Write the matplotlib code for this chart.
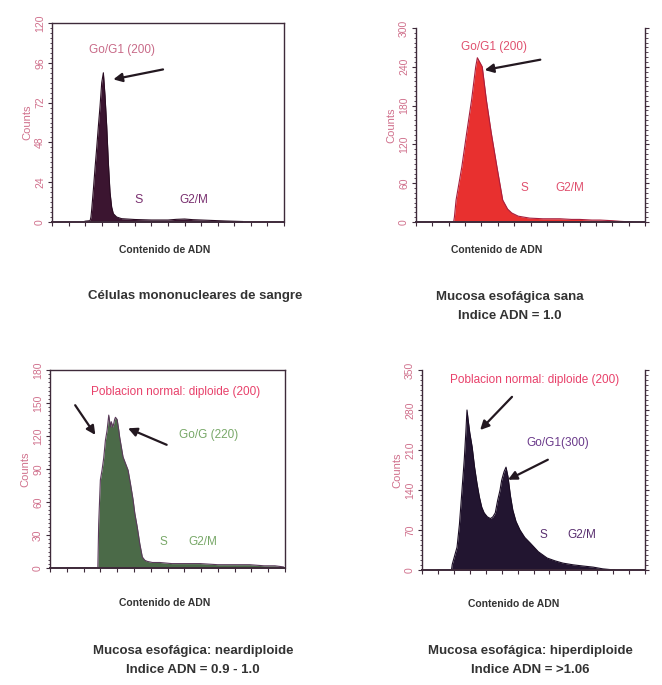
import matplotlib
matplotlib.use("Agg")
import matplotlib.pyplot as plt
from matplotlib.ticker import MultipleLocator, AutoMinorLocator

plt.rcParams['font.family'] = ['Liberation Sans', 'DejaVu Sans']

# ---- data (channel, counts) ----
p1_channel = [40, 46, 47, 48, 50, 52, 54, 56, 58, 60, 62, 64, 66, 68, 70, 72, 74, 78,
              84, 100, 120, 140, 150, 160, 170, 190, 210, 230]
p1_counts = [0.5, 0.8, 3, 8, 20, 33, 45, 58, 70, 84, 90, 76, 58, 36, 18, 9, 5, 3,
             2, 1.5, 1.2, 1.2, 1.6, 1.8, 1.4, 1, 0.6, 0.3]

p2_channel = [20, 46, 47, 49, 56, 62, 68, 73, 75, 81, 86, 92, 99, 106, 112, 117, 125,
              139, 155, 176, 190, 200, 215, 225, 240, 250, 265]
p2_counts = [0, 0, 8, 34, 85, 138, 189, 240, 254, 240, 189, 138, 85, 34, 20, 14, 9,
             6, 5, 5, 4, 4, 3, 3, 2, 1, 0]

p3_channel = [20, 57, 58, 60, 62, 64, 66, 68, 70, 72, 73, 75, 77, 78, 80, 82, 83, 85,
              87, 90, 93, 96, 99, 101, 104, 107, 110, 113, 116, 122, 131, 145, 160,
              179, 200, 220, 238, 255, 268, 278]
p3_counts = [0, 0, 40, 80, 89, 100, 116, 125, 139, 128, 133, 128, 135, 137, 135, 125,
             119, 110, 101, 95, 89, 76, 62, 50, 37, 22, 10, 7, 6, 5, 5, 4, 4, 4, 3, 3,
             3, 2, 2, 1]

p4_channel = [20, 37, 38, 41, 44, 47, 49, 51, 53, 55, 56.5, 58, 60, 63, 66, 69, 72, 75,
              78, 82, 86, 89, 92, 95, 98, 100, 103, 105.5, 108, 111, 114, 118, 123,
              129, 136, 146, 157, 167, 177, 190, 202, 215, 227, 242]
p4_counts = [0, 0, 10, 25, 40, 80, 117, 155, 192, 240, 280, 262, 240, 215, 180, 152,
             128, 110, 100, 93, 90, 93, 100, 122, 140, 157, 172, 180, 163, 130, 105,
             85, 70, 57, 47, 32, 21, 16, 12, 9, 7, 5, 2, 0]

y_max = [120, 300, 180, 350]
y_step = [24, 60, 30, 70]

x_title = 'Contenido de ADN'
captions = [['Células mononucleares de sangre'],
            ['Mucosa esofágica sana', 'Indice ADN = 1.0'],
            ['Mucosa esofágica: neardiploide', 'Indice ADN = 0.9 - 1.0'],
            ['Mucosa esofágica: hiperdiploide', 'Indice ADN = >1.06']]

W, H = 662, 685
fig = plt.figure(figsize=(W / 100, H / 100), dpi=100)
fig.patch.set_facecolor('white')


def px_axes(left, top, right, bottom):
    return fig.add_axes([left / W, 1 - bottom / H, (right - left) / W, (bottom - top) / H])


axes = [px_axes(52, 23, 284, 222), px_axes(416, 28, 645, 222),
        px_axes(50, 370, 285, 568), px_axes(422, 370, 645, 570)]

fills = ['#3b1530', '#e8302f', '#4b6a48', '#221530']
edges = ['#2a0c22', '#a81e3c', '#5a3a5a', '#1a0c24']
data = [(p1_channel, p1_counts), (p2_channel, p2_counts),
        (p3_channel, p3_counts), (p4_channel, p4_counts)]
pink = '#d0708c'
spine_col = '#3e2a3a'

for i, ax in enumerate(axes):
    xs, ys = data[i]
    ax.fill_between(xs, ys, 0, color=fills[i], lw=0)
    ax.plot(xs, ys, color=edges[i], lw=0.8)
    ax.set_xlim(0, 280)
    ax.set_ylim(0, y_max[i])
    ax.xaxis.set_major_locator(MultipleLocator(20))
    ax.yaxis.set_major_locator(MultipleLocator(y_step[i]))
    ax.yaxis.set_minor_locator(AutoMinorLocator(8))
    ax.tick_params(axis='x', direction='out', length=3, width=0.8, color=spine_col,
                   labelbottom=False)
    ax.tick_params(axis='y', which='major', direction='out', length=3, width=0.8,
                   color=spine_col, labelsize=7.5, labelcolor=pink, pad=2)
    ax.tick_params(axis='y', which='minor', direction='out', length=1.8, width=0.6,
                   color=spine_col)
    for lab in ax.get_yticklabels():
        lab.set_rotation(90)
        lab.set_va('center')
    ax.set_ylabel('Counts', fontsize=8, color=pink, labelpad=2)
    for s in ax.spines.values():
        s.set_color(spine_col)
        s.set_linewidth(1.0)
    ax.spines['bottom'].set_linewidth(1.4)
    if i in (1, 3):
        ax.spines['top'].set_visible(False)
        ax.tick_params(axis='y', which='both', right=True)

arrow = dict(arrowstyle='-|>', color='#231820', lw=1.6, mutation_scale=13,
             shrinkA=0, shrinkB=0)

# panel 1
a = axes[0]
a.text(84, 104, 'Go/G1 (200)', color='#c86a88', fontsize=8.5, ha='center', va='center')
a.annotate('', xy=(74, 86), xytext=(134, 92), arrowprops=arrow)
a.text(104, 13, 'S', color='#7a3070', fontsize=9, ha='center', va='center')
a.text(171, 13, 'G2/M', color='#7a3070', fontsize=8.5, ha='center', va='center')

# panel 2
a = axes[1]
a.text(95, 271, 'Go/G1 (200)', color='#e0506e', fontsize=8.5, ha='center', va='center')
a.annotate('', xy=(84, 235), xytext=(152, 251), arrowprops=arrow)
a.text(133, 53, 'S', color='#e0506e', fontsize=8.5, ha='center', va='center')
a.text(188, 53, 'G2/M', color='#e0506e', fontsize=8.5, ha='center', va='center')

# panel 3
a = axes[2]
a.text(150, 160, 'Poblacion normal: diploide (200)', color='#e8406a', fontsize=8.5,
       ha='center', va='center')
a.annotate('', xy=(54, 121), xytext=(30, 148), arrowprops=arrow)
a.annotate('', xy=(93, 127), xytext=(139, 112), arrowprops=arrow)
a.text(189, 121, 'Go/G (220)', color='#78a868', fontsize=8.5, ha='center', va='center')
a.text(135, 24, 'S', color='#78a868', fontsize=8.5, ha='center', va='center')
a.text(182, 24, 'G2/M', color='#78a868', fontsize=8.5, ha='center', va='center')

# panel 4
a = axes[3]
a.text(141, 332, 'Poblacion normal: diploide (200)', color='#e8406a', fontsize=8.5,
       ha='center', va='center', clip_on=False)
a.annotate('', xy=(73, 245), xytext=(113, 303), arrowprops=arrow)
a.text(170, 222, 'Go/G1(300)', color='#6a3a8a', fontsize=8.5, ha='center', va='center')
a.annotate('', xy=(108, 158), xytext=(158, 193), arrowprops=arrow)
a.text(152, 61, 'S', color='#5a3070', fontsize=8.5, ha='center', va='center')
a.text(201, 61, 'G2/M', color='#5a3070', fontsize=8.5, ha='center', va='center')

# titles and captions
title_pos = [(165, 250), (497, 250), (165, 603), (514, 604)]
caption_pos = [(195, 296), (510, 297), (193, 651), (530, 651)]
for i in range(4):
    x, y = title_pos[i]
    fig.text(x / W, 1 - y / H, x_title, fontsize=7.5, fontweight='bold',
             color='#333333', ha='center', va='center')
    x, y = caption_pos[i]
    for k, line in enumerate(captions[i]):
        fig.text(x / W, 1 - (y + 19 * k) / H, line, fontsize=9.5, fontweight='bold',
                 color='#333333', ha='center', va='center')

fig.savefig('out.png', dpi=100, facecolor='white')
